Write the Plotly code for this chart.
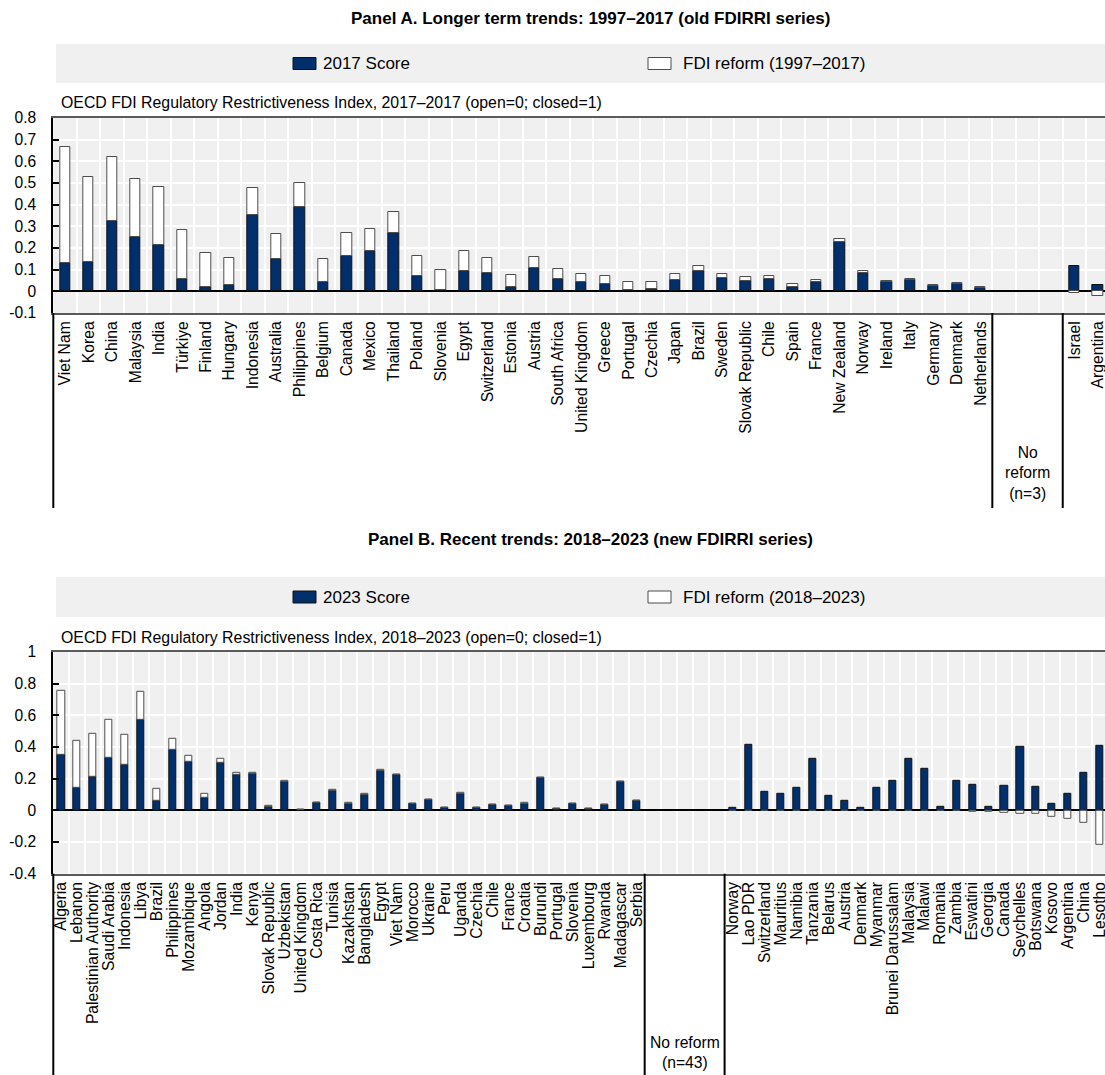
import plotly.graph_objects as go

# ---------------- Panel A: old FDIRRI series (1997-2017) ----------------
A_REFORM_COUNTRIES = [
    "Viet Nam", "Korea", "China", "Malaysia", "India", "Türkiye", "Finland", "Hungary",
    "Indonesia", "Australia", "Philippines", "Belgium", "Canada", "Mexico", "Thailand",
    "Poland", "Slovenia", "Egypt", "Switzerland", "Estonia", "Austria", "South Africa",
    "United Kingdom", "Greece", "Portugal", "Czechia", "Japan", "Brazil", "Sweden",
    "Slovak Republic", "Chile", "Spain", "France", "New Zealand", "Norway", "Ireland",
    "Italy", "Germany", "Denmark", "Netherlands",
]
A_REFORM_SCORE = [
    0.132, 0.135, 0.326, 0.253, 0.216, 0.058, 0.018, 0.028,
    0.354, 0.147, 0.389, 0.041, 0.162, 0.187, 0.267,
    0.070, 0.008, 0.093, 0.083, 0.018, 0.106, 0.055,
    0.041, 0.032, 0.006, 0.011, 0.051, 0.095, 0.060,
    0.048, 0.055, 0.021, 0.044, 0.228, 0.083, 0.043,
    0.051, 0.023, 0.032, 0.014,
]
A_REFORM_CHANGE = [
    0.536, 0.395, 0.296, 0.265, 0.264, 0.224, 0.160, 0.124,
    0.123, 0.118, 0.111, 0.108, 0.105, 0.100, 0.098,
    0.095, 0.092, 0.091, 0.070, 0.059, 0.052, 0.048,
    0.040, 0.038, 0.037, 0.033, 0.028, 0.023, 0.018,
    0.020, 0.017, 0.014, 0.010, 0.012, 0.010, 0.006,
    0.008, 0.006, 0.008, 0.006,
]
A_NO_REFORM_N = 3
A_UP_COUNTRIES = ["Israel", "Argentina"]
A_UP_SCORE = [0.118, 0.031]
A_UP_CHANGE = [-0.006, -0.021]
A_YTICKS = [-0.1, 0, 0.1, 0.2, 0.3, 0.4, 0.5, 0.6, 0.7, 0.8]
A_YTICKTEXT = ["-0.1", "0", "0.1", "0.2", "0.3", "0.4", "0.5", "0.6", "0.7", "0.8"]

# ---------------- Panel B: new FDIRRI series (2018-2023) ----------------
B_REFORM_COUNTRIES = [
    "Algeria", "Lebanon", "Palestinian Authority", "Saudi Arabia", "Indonesia", "Libya",
    "Brazil", "Philippines", "Mozambique", "Angola", "Jordan", "India", "Kenya",
    "Slovak Republic", "Uzbekistan", "United Kingdom", "Costa Rica", "Tunisia",
    "Kazakhstan", "Bangladesh", "Egypt", "Viet Nam", "Morocco", "Ukraine", "Peru",
    "Uganda", "Czechia", "Chile", "France", "Croatia", "Burundi", "Portugal",
    "Slovenia", "Luxembourg", "Rwanda", "Madagascar", "Serbia",
]
B_REFORM_SCORE = [
    0.349, 0.143, 0.211, 0.333, 0.284, 0.571,
    0.059, 0.381, 0.303, 0.078, 0.299, 0.221, 0.232,
    0.023, 0.180, 0.004, 0.046, 0.124,
    0.042, 0.099, 0.251, 0.225, 0.042, 0.067, 0.015,
    0.107, 0.013, 0.032, 0.027, 0.044, 0.204, 0.010,
    0.042, 0.010, 0.034, 0.177, 0.061,
]
B_REFORM_CHANGE = [
    0.408, 0.293, 0.269, 0.238, 0.194, 0.175,
    0.078, 0.067, 0.042, 0.027, 0.023, 0.013, 0.006,
    0.003, 0.003, 0.002, 0.003, 0.003,
    0.003, 0.003, 0.002, 0.002, 0.002, 0.002, 0.002,
    0.002, 0.002, 0.002, 0.002, 0.002, 0.002, 0.001,
    0.001, 0.001, 0.001, 0.001, 0.001,
]
B_NO_REFORM_N = 43
B_UP_COUNTRIES = [
    "Norway", "Lao PDR", "Switzerland", "Mauritius", "Namibia", "Tanzania", "Belarus",
    "Austria", "Denmark", "Myanmar", "Brunei Darussalam", "Malaysia", "Malawi",
    "Romania", "Zambia", "Eswatini", "Georgia", "Canada", "Seychelles", "Botswana",
    "Kosovo", "Argentina", "China", "Lesotho",
]
B_UP_SCORE = [
    0.017, 0.415, 0.114, 0.103, 0.141, 0.326, 0.091,
    0.057, 0.015, 0.145, 0.187, 0.322, 0.265,
    0.021, 0.189, 0.158, 0.025, 0.152, 0.400, 0.149,
    0.044, 0.107, 0.234, 0.406,
]
B_UP_CHANGE = [
    -0.001, -0.001, -0.001, -0.002, -0.002, -0.002, -0.002,
    -0.003, -0.003, -0.004, -0.004, -0.005, -0.005,
    -0.006, -0.006, -0.007, -0.011, -0.013, -0.019, -0.025,
    -0.044, -0.053, -0.076, -0.215,
]
B_YTICKS = [-0.4, -0.2, 0, 0.2, 0.4, 0.6, 0.8, 1]
B_YTICKTEXT = ["-0.4", "-0.2", "0", "0.2", "0.4", "0.6", "0.8", "1"]

# ---------------- styling ----------------
W, H = 1105, 1075
FONT = "Liberation Sans, Arial, sans-serif"
NAVY = "#002F6C"
BG = "#F0F0F0"
PLOT_LEFT = 53.3
BAND_LEFT = 56
TITLE_CX = 590
LEGEND_X = (293, 648)
LEGEND_TEXT_X = (321, 681)
A_GAP_SLOTS = 3   # empty slots reserved for the "No reform" group
B_GAP_SLOTS = 5


def px(x):
    return x / W


def py(y):
    return 1 - y / H


def layout_positions(n_reform, gap, n_up):
    xs_reform = list(range(n_reform))
    xs_up = [n_reform + gap + i for i in range(n_up)]
    sep = (n_reform - 0.5, n_reform + gap - 0.5)
    return xs_reform, xs_up, sep


a_xr, a_xu, a_sep = layout_positions(len(A_REFORM_COUNTRIES), A_GAP_SLOTS, len(A_UP_COUNTRIES))
b_xr, b_xu, b_sep = layout_positions(len(B_REFORM_COUNTRIES), B_GAP_SLOTS, len(B_UP_COUNTRIES))

fig = go.Figure()

bar_w = 0.44
for xs, score, change, xa, ya in [
    (a_xr + a_xu, A_REFORM_SCORE + A_UP_SCORE, A_REFORM_CHANGE + A_UP_CHANGE, "x", "y"),
    (b_xr + b_xu, B_REFORM_SCORE + B_UP_SCORE, B_REFORM_CHANGE + B_UP_CHANGE, "x2", "y2"),
]:
    fig.add_trace(go.Bar(
        x=xs, y=score, width=bar_w, xaxis=xa, yaxis=ya,
        marker=dict(color=NAVY, line=dict(color="#111111", width=1)),
        showlegend=False, hoverinfo="skip",
    ))
    fig.add_trace(go.Bar(
        x=xs, y=change, width=bar_w, xaxis=xa, yaxis=ya,
        marker=dict(color="white", line=dict(color="#4D4D4D", width=1)),
        showlegend=False, hoverinfo="skip",
    ))

# panel geometry (pixels)
A_TOP, A_BOT, A_EXT = 118, 313, 508
B_TOP, B_BOT, B_EXT = 651.8, 873.7, 1075


def xaxis_cfg(xs, names, rng, ydom_anchor, label_size):
    n_last = rng[1]
    bounds = [i + 0.5 for i in range(-1, int(n_last) + 1)]
    return dict(
        domain=[px(PLOT_LEFT), 1], range=rng, anchor=ydom_anchor,
        tickmode="array", tickvals=xs, ticktext=names, tickangle=-90,
        tickfont=dict(family=FONT, size=label_size, color="black"),
        ticklabeloverflow="allow",
        showgrid=False, zeroline=False,
        minor=dict(tickmode="array", tickvals=bounds, showgrid=True,
                   gridcolor="white", gridwidth=1.5, ticks=""),
        showline=True, linecolor="#5A5A5A", linewidth=2, mirror=True,
        ticks="", automargin=False, fixedrange=True,
    )


def yaxis_cfg(dom, rng, vals, texts, xanchor, label_size):
    return dict(
        domain=dom, range=rng, anchor=xanchor,
        tickmode="array", tickvals=vals, ticktext=texts,
        tickfont=dict(family=FONT, size=label_size, color="black"),
        showgrid=True, gridcolor="white", gridwidth=1.5,
        zeroline=True, zerolinecolor="black", zerolinewidth=2,
        showline=True, linecolor="black", linewidth=2,
        ticks="inside", ticklen=6, tickwidth=2, tickcolor="black",
        ticklabelstandoff=12, automargin=False, fixedrange=True,
    )


fig.update_layout(
    width=W, height=H,
    margin=dict(l=0, r=0, t=0, b=0),
    template="none",
    paper_bgcolor="white", plot_bgcolor=BG,
    barmode="relative", bargap=0,
    font=dict(family=FONT, size=15, color="black"),
    xaxis=xaxis_cfg(a_xr + a_xu, A_REFORM_COUNTRIES + A_UP_COUNTRIES, [-0.5, 44.3], "y", 15.7),
    yaxis=yaxis_cfg([py(A_BOT), py(A_TOP)], [-0.1, 0.8], A_YTICKS, A_YTICKTEXT, "x", 15.6),
    xaxis2=xaxis_cfg(b_xr + b_xu, B_REFORM_COUNTRIES + B_UP_COUNTRIES, [-0.5, 65.3], "y2", 15.7),
    yaxis2=yaxis_cfg([py(B_BOT), py(B_TOP)], [-0.4, 1.0], B_YTICKS, B_YTICKTEXT, "x2", 15.6),
)

shapes = []
annotations = []


def add_panel_frame(title, legend_labels, axis_title, title_y, band_top, band_bot,
                    axis_title_y, top, bot, ext, sep, xref, gap_label, gap_label_y):
    annotations.append(dict(
        text="<b>%s</b>" % title, x=px(TITLE_CX), y=py(title_y), xref="paper", yref="paper",
        xanchor="center", yanchor="middle", showarrow=False,
        font=dict(family=FONT, size=17, color="black"),
    ))
    shapes.append(dict(type="rect", xref="paper", yref="paper",
                       x0=px(BAND_LEFT), x1=1, y0=py(band_bot), y1=py(band_top),
                       fillcolor=BG, line=dict(width=0), layer="below"))
    mid = (band_top + band_bot) / 2
    for x0, tx, fill, edge, label in zip(LEGEND_X, LEGEND_TEXT_X, (NAVY, "white"),
                                         ("#111111", "#4D4D4D"), legend_labels):
        shapes.append(dict(type="rect", xref="paper", yref="paper",
                           x0=px(x0), x1=px(x0 + 23), y0=py(mid + 6), y1=py(mid - 6),
                           fillcolor=fill, line=dict(color=edge, width=1)))
        annotations.append(dict(
            text=label, x=px(tx), y=py(mid), xref="paper", yref="paper",
            xanchor="left", yanchor="middle", showarrow=False,
            font=dict(family=FONT, size=17, color="black"),
        ))
    annotations.append(dict(
        text=axis_title, x=px(59), y=py(axis_title_y), xref="paper", yref="paper",
        xanchor="left", yanchor="middle", showarrow=False,
        font=dict(family=FONT, size=15.85, color="black"),
    ))
    # left axis carried down through the label area
    shapes.append(dict(type="line", xref="paper", yref="paper",
                       x0=px(PLOT_LEFT), x1=px(PLOT_LEFT), y0=py(bot), y1=py(ext),
                       line=dict(color="black", width=2)))
    # separators around the "No reform" group
    for s in sep:
        shapes.append(dict(type="line", xref=xref, yref="paper",
                           x0=s, x1=s, y0=py(bot), y1=py(ext),
                           line=dict(color="black", width=2)))
    annotations.append(dict(
        text=gap_label, x=(sep[0] + sep[1]) / 2, y=py(gap_label_y),
        xref=xref, yref="paper", xanchor="center", yanchor="middle",
        showarrow=False, align="center",
        font=dict(family=FONT, size=15.7, color="black"),
    ))


add_panel_frame(
    "Panel A. Longer term trends: 1997–2017 (old FDIRRI series)",
    ["2017 Score", "FDI reform (1997–2017)"],
    "OECD FDI Regulatory Restrictiveness Index, 2017–2017 (open=0; closed=1)",
    19, 44, 83, 103, A_TOP, A_BOT, A_EXT, a_sep, "x",
    "No<br>reform<br>(n=%d)" % A_NO_REFORM_N, 473,
)
add_panel_frame(
    "Panel B. Recent trends: 2018–2023 (new FDIRRI series)",
    ["2023 Score", "FDI reform (2018–2023)"],
    "OECD FDI Regulatory Restrictiveness Index, 2018–2023 (open=0; closed=1)",
    539, 577, 617, 637, B_TOP, B_BOT, B_EXT, b_sep, "x2",
    "No reform<br>(n=%d)" % B_NO_REFORM_N, 1052,
)

fig.update_layout(shapes=shapes, annotations=annotations)
fig.write_html("out.html")
